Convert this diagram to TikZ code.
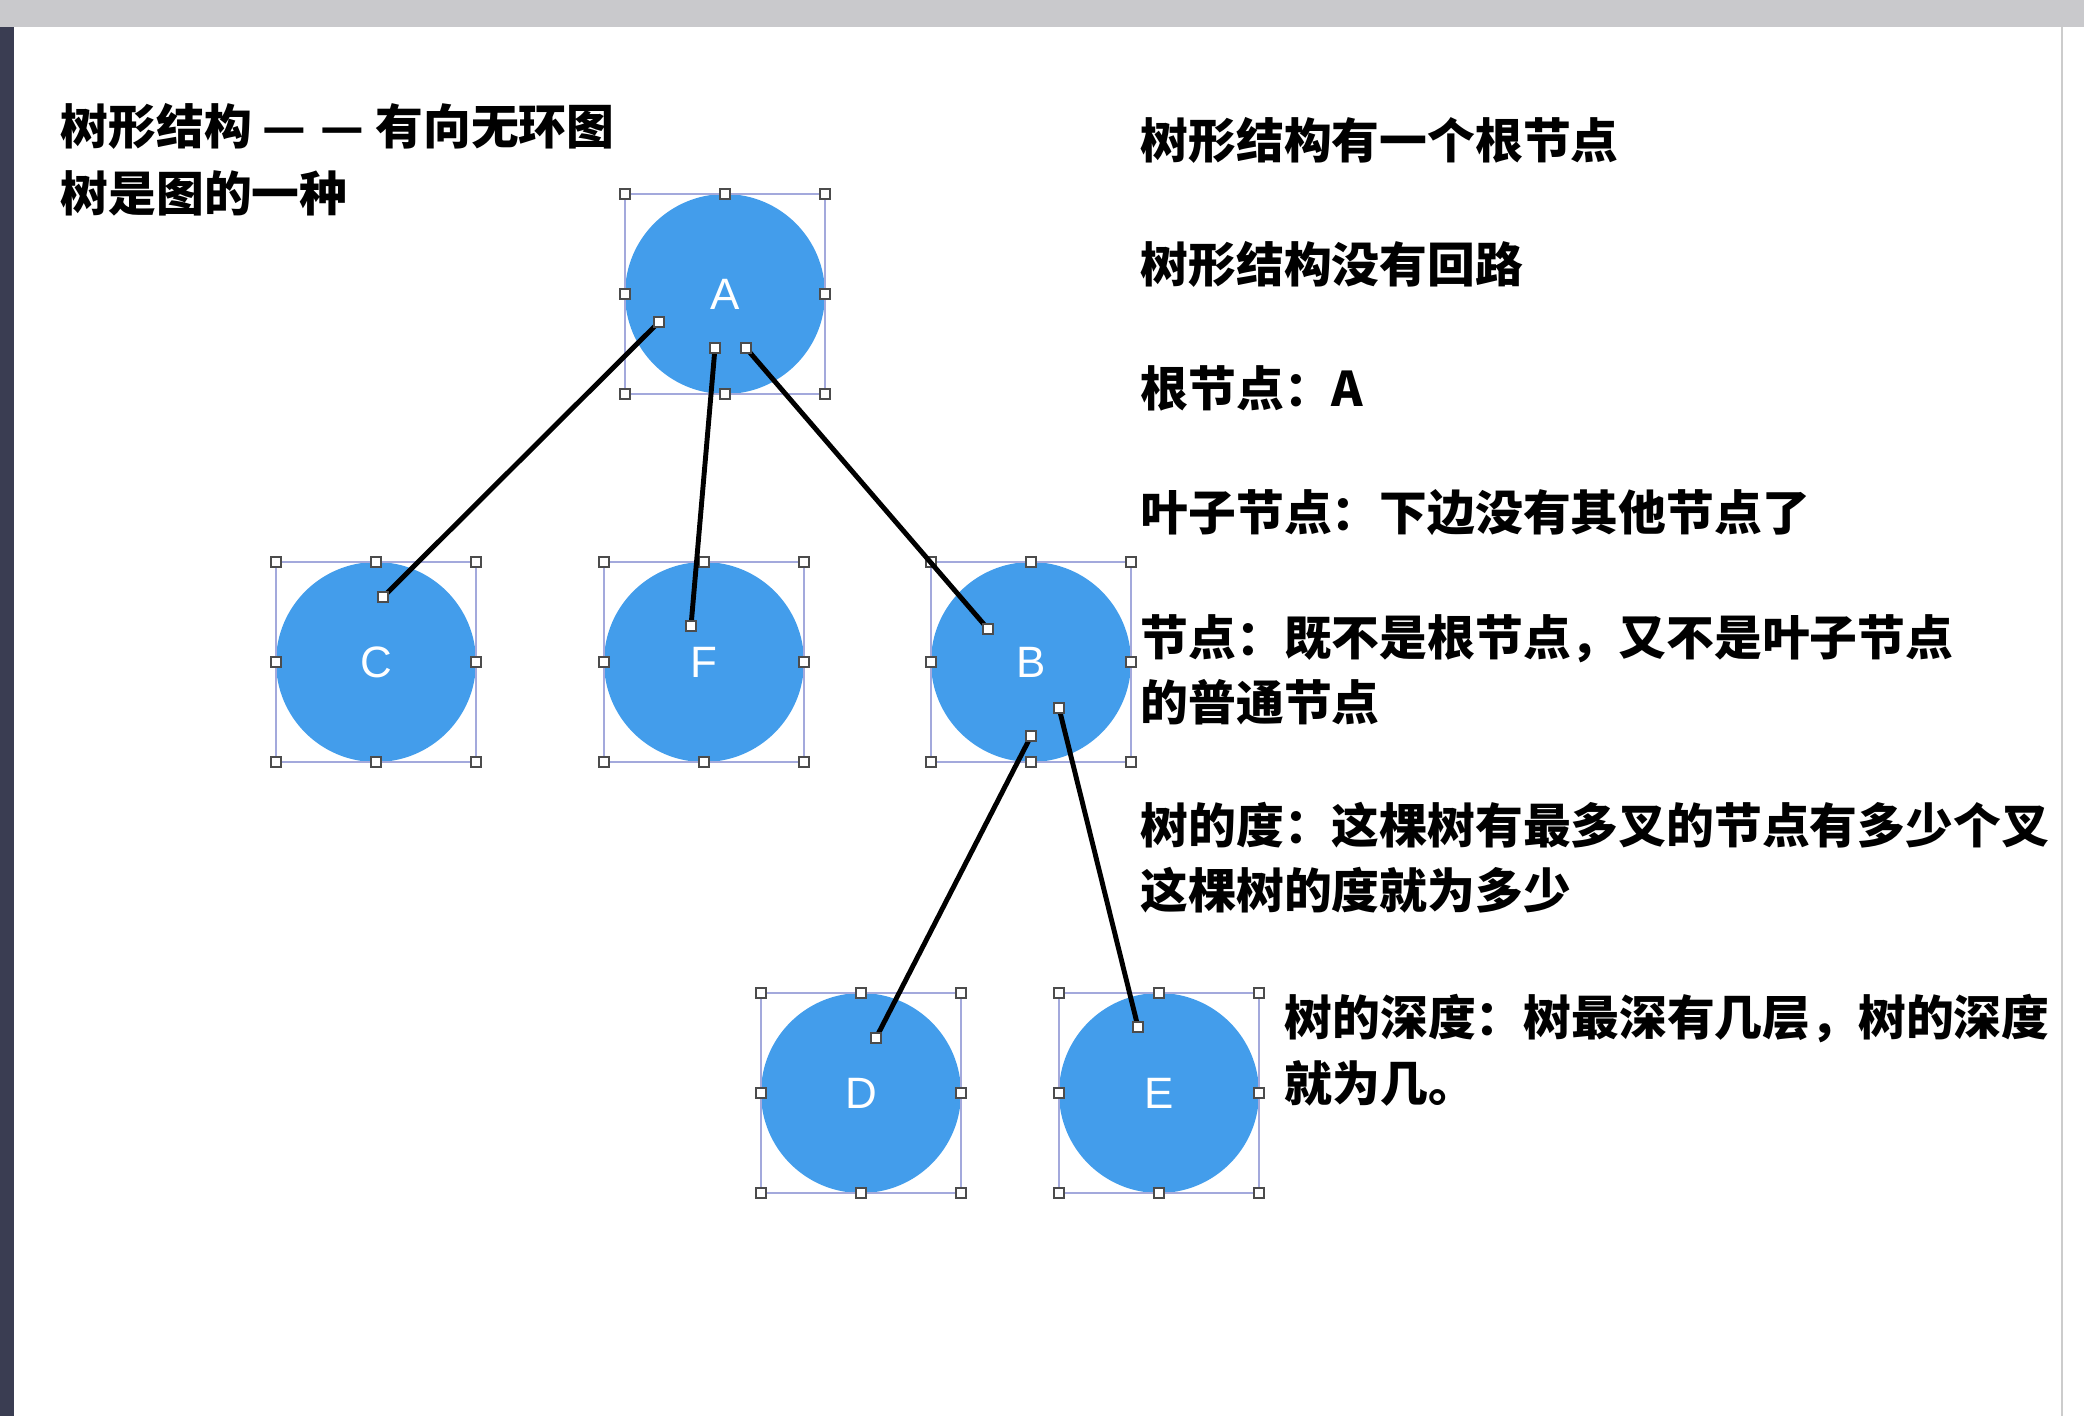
\documentclass[tikz,border=0pt]{standalone}
\usepackage{fontspec}
\setmainfont{Liberation Sans}
\newfontfamily\cjk{Noto Sans CJK SC}
\usetikzlibrary{positioning}
\definecolor{nodeblue}{HTML}{439DEB}
\definecolor{selline}{HTML}{A3A9DC}
\definecolor{barbg}{HTML}{C9C9CC}
\definecolor{sidebar}{HTML}{3A3D52}

\begin{document}
\begin{tikzpicture}[
  treenode/.style={circle, fill=nodeblue, minimum size=2cm, inner sep=0pt,
                   text=white, font=\fontsize{12.5}{14}\selectfont},
  link/.style={line width=1.4pt, black},
  selbox/.style={draw=selline, line width=0.5pt},
  handle/.style={draw=gray!60!black, fill=white, line width=0.4pt},
  txt/.style={inner sep=0pt, anchor=base west,
              font=\cjk\bfseries\fontsize{13.6}{16}\selectfont},
]

% slide frame
\fill[white] (0,0) rectangle (20.84,-14.16);
\useasboundingbox (0,0) rectangle (20.84,-14.16);
\fill[barbg] (0,0) rectangle (20.84,-0.27);
\fill[sidebar] (0,-0.27) rectangle (0.14,-14.16);
\draw[gray!40] (20.62,-0.27) -- (20.62,-14.16);

\node[treenode] (A) at (7.25,-2.94) {A};
\node[treenode] (C) at (3.76,-6.62) {C};
\node[treenode] (F) at (7.04,-6.62) {F};
\node[treenode] (B) at (10.31,-6.62) {B};
\node[treenode] (D) at (8.61,-10.93) {D};
\node[treenode] (E) at (11.59,-10.93) {E};

% selection boxes
\foreach \n in {A,C,F,B,D,E} {
  \draw[selbox] ([shift={(-1,-1)}]\n.center) rectangle ([shift={(1,1)}]\n.center);
  \foreach \dx/\dy in {-1/-1,0/-1,1/-1,-1/0,1/0,-1/1,0/1,1/1}
    \draw[handle] ([shift={(\dx-0.05,\dy-0.05)}]\n.center) rectangle ([shift={(\dx+0.05,\dy+0.05)}]\n.center);
}

\coordinate (ac) at ([shift={(-0.66,-0.28)}]A.center);
\coordinate (ca) at ([shift={(0.07,0.65)}]C.center);
\coordinate (af) at ([shift={(-0.10,-0.54)}]A.center);
\coordinate (fa) at ([shift={(-0.13,0.36)}]F.center);
\coordinate (ab) at ([shift={(0.21,-0.54)}]A.center);
\coordinate (ba) at ([shift={(-0.43,0.33)}]B.center);
\coordinate (bd) at ([shift={(0,-0.74)}]B.center);
\coordinate (db) at ([shift={(0.15,0.55)}]D.center);
\coordinate (be) at ([shift={(0.28,-0.46)}]B.center);
\coordinate (eb) at ([shift={(-0.21,0.66)}]E.center);

\draw[link] (ac) -- (ca);
\draw[link] (af) -- (fa);
\draw[link] (ab) -- (ba);
\draw[link] (bd) -- (db);
\draw[link] (be) -- (eb);

\foreach \p in {ac,ca,af,fa,ab,ba,bd,db,be,eb}
  \draw[handle] ([shift={(-0.05,-0.05)}]\p) rectangle ([shift={(0.05,0.05)}]\p);

\node[txt] (title) at (0.60,-1.44) {树形结构 —\hspace{0.3em}— 有向无环图};
\node[txt] (subtitle) at (0.60,-2.11) {树是图的一种};

\node[txt] (r1) at (11.40,-1.58) {树形结构有一个根节点};
\node[txt] (r2) at (11.40,-2.82) {树形结构没有回路};
\node[txt] (r3) at (11.40,-4.06) {根节点：A};
\node[txt] (r4) at (11.40,-5.30) {叶子节点：下边没有其他节点了};
\node[txt] (r5a) at (11.40,-6.55) {节点：既不是根节点，又不是叶子节点};
\node[txt] (r5b) at ([yshift=-0.65cm]r5a.base west) {的普通节点};
\node[txt] (r6a) at (11.40,-8.43) {树的度：这棵树有最多叉的节点有多少个叉};
\node[txt] (r6b) at ([yshift=-0.65cm]r6a.base west) {这棵树的度就为多少};
\node[txt] (r7a) at (12.84,-10.35) {树的深度：树最深有几层，树的深度};
\node[txt] (r7b) at ([yshift=-0.66cm]r7a.base west) {就为几。};

\end{tikzpicture}
\end{document}
